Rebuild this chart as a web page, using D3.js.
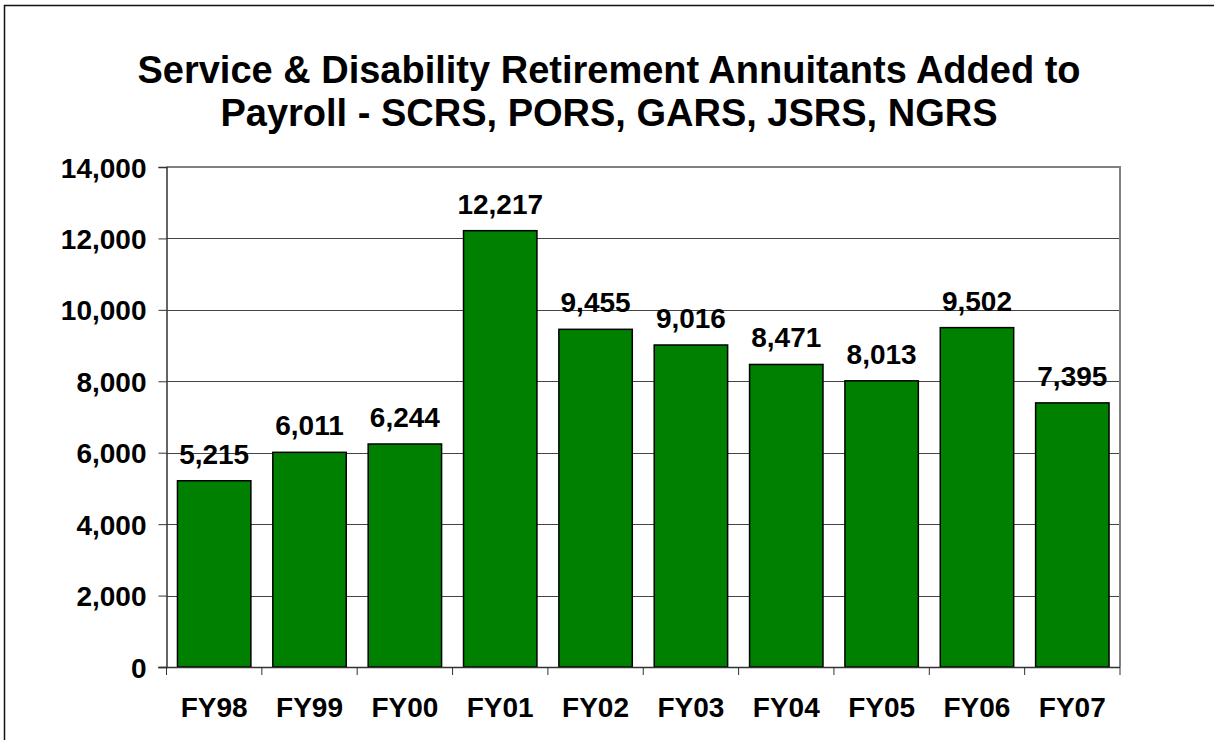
<!DOCTYPE html>
<html><head><meta charset="utf-8">
<script src="https://cdn.jsdelivr.net/npm/d3@7"></script>
<style>body{margin:0;background:#fff;overflow:hidden}svg{display:block}text{font-family:"Liberation Sans",Arial,sans-serif;font-weight:bold;fill:#000}</style>
</head><body>
<svg id="chart" width="1214" height="740"></svg>
<script>
const categories = ["FY98","FY99","FY00","FY01","FY02","FY03","FY04","FY05","FY06","FY07"];
const values = [5215,6011,6244,12217,9455,9016,8471,8013,9502,7395];
const yTicks = [0,2000,4000,6000,8000,10000,12000,14000];
const titleLines = ["Service & Disability Retirement Annuitants Added to","Payroll - SCRS, PORS, GARS, JSRS, NGRS"];

const svg = d3.select("#chart");
const m = {left:166.5, right:1120, top:167, bottom:667};

svg.append("rect").attr("x",4.5).attr("y",5.5).attr("width",3000).attr("height",3000)
  .attr("fill","none").attr("stroke","#111").attr("stroke-width",1.5);

const x = d3.scaleBand().domain(categories).range([m.left,m.right]).paddingInner(0.23).paddingOuter(0.115);
const y = d3.scaleLinear().domain([0,14000]).range([m.bottom,m.top]);

// title
svg.append("g").selectAll("text").data(titleLines).join("text")
  .attr("x",609).attr("y",(d,i)=>83+i*43).attr("text-anchor","middle")
  .style("font-size","38px").text(d=>d);

// gridlines
svg.append("g").selectAll("line").data(yTicks.filter(t=>t>0 && t<14000)).join("line")
  .attr("x1",m.left).attr("x2",m.right).attr("y1",d=>Math.round(y(d))+0.5).attr("y2",d=>Math.round(y(d))+0.5)
  .attr("stroke","#444").attr("stroke-width",1);

// plot border top/right
svg.append("path").attr("d",`M${m.left},${m.top}H${m.right}V${m.bottom}`)
  .attr("fill","none").attr("stroke","#808080").attr("stroke-width",2);

// bars
svg.append("g").selectAll("rect").data(values).join("rect")
  .attr("x",(d,i)=>x(categories[i])).attr("width",x.bandwidth())
  .attr("y",d=>y(d)).attr("height",d=>y(0)-y(d))
  .attr("fill","#008000").attr("stroke","#000").attr("stroke-width",1.5);

// value labels
const fmt = d3.format(",");
svg.append("g").selectAll("text").data(values).join("text")
  .attr("x",(d,i)=>x(categories[i])+x.bandwidth()/2).attr("y",d=>y(d)-17)
  .attr("text-anchor","middle").style("font-size","28px").text(d=>fmt(d));

// y axis
const yAxis = d3.axisLeft(y).tickValues(yTicks).tickFormat(fmt).tickSize(8).tickPadding(12);
const ya = svg.append("g").attr("transform",`translate(${m.left},0)`).call(yAxis);
ya.select(".domain").attr("stroke","#333").attr("stroke-width",1.5);
ya.selectAll(".tick line").attr("stroke","#333");
ya.selectAll(".tick text").style("font-size","28px").style("font-family","'Liberation Sans',Arial,sans-serif").attr("fill","#000").attr("dy","0.36em");

// x axis baseline and ticks at band boundaries
const bounds = categories.map(c=>x(c)-x.step()*x.paddingInner()/2).concat([m.right]);
svg.append("line").attr("x1",m.left-8).attr("x2",m.right).attr("y1",m.bottom+0.5).attr("y2",m.bottom+0.5).attr("stroke","#333").attr("stroke-width",1.5);
svg.append("g").selectAll("line").data(bounds).join("line")
  .attr("x1",d=>d).attr("x2",d=>d).attr("y1",m.bottom).attr("y2",m.bottom+8).attr("stroke","#333");
svg.append("g").selectAll("text").data(categories).join("text")
  .attr("x",d=>x(d)+x.bandwidth()/2).attr("y",716.5).attr("text-anchor","middle")
  .style("font-size","28px").text(d=>d);
</script>
</body></html>
